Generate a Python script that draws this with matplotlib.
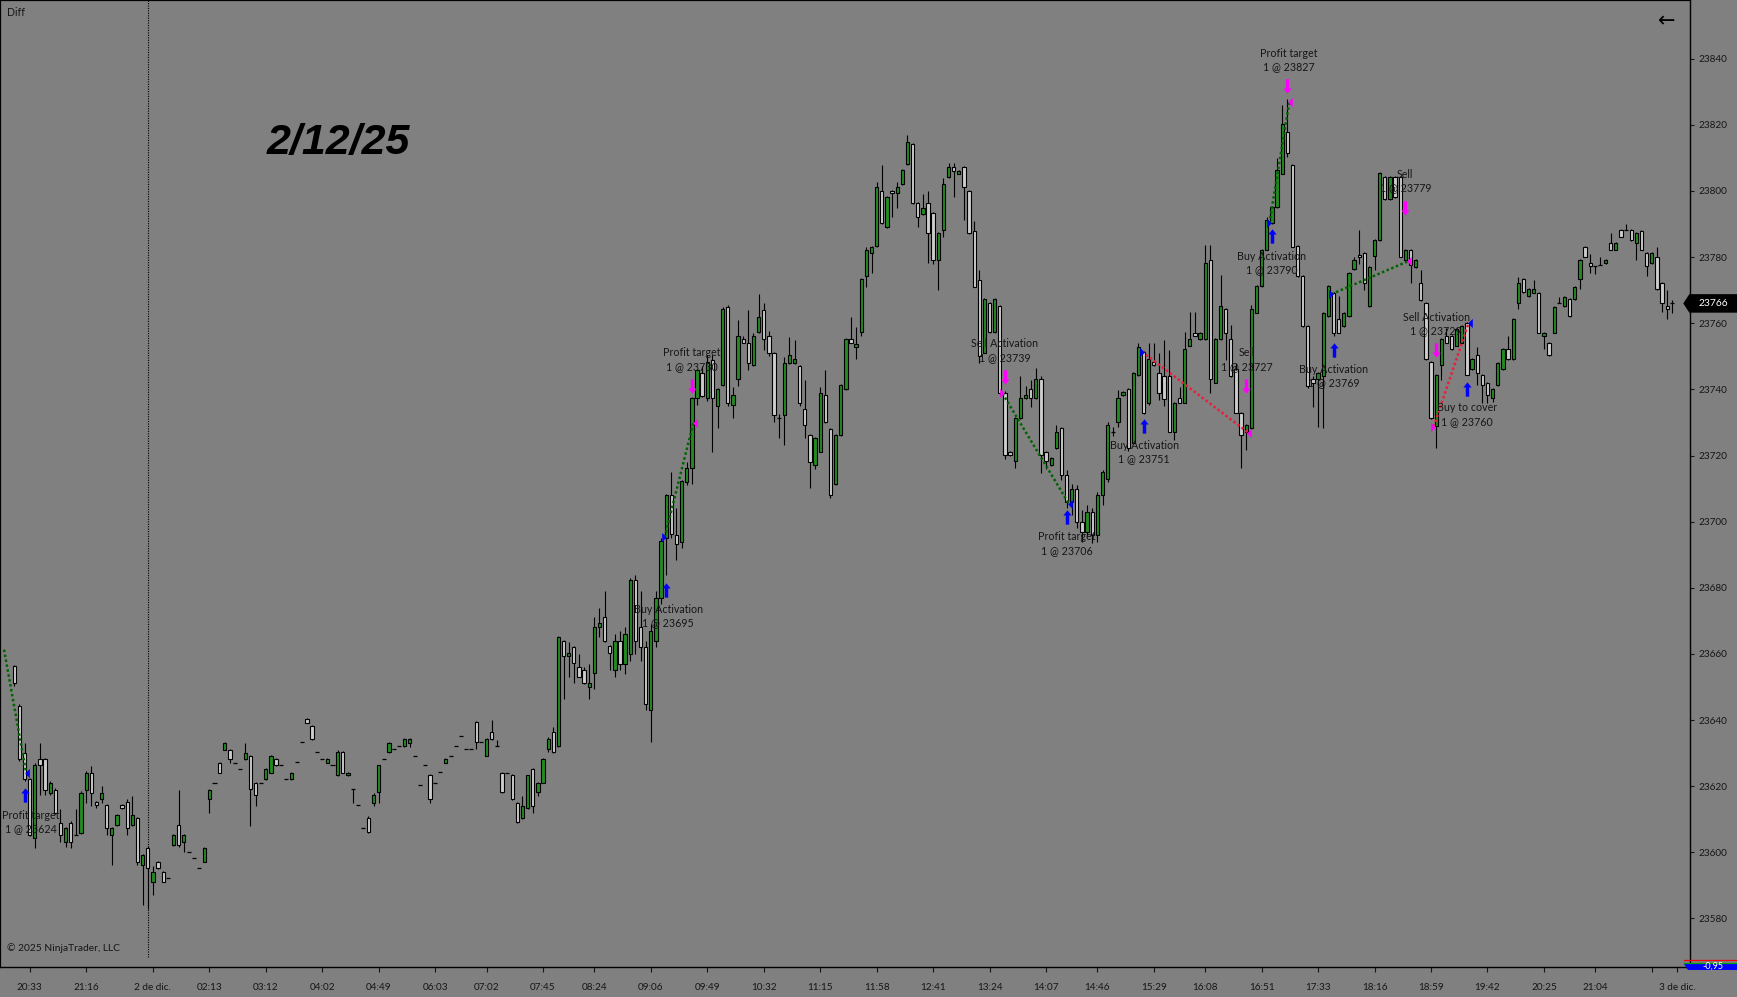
import matplotlib
matplotlib.use('Agg')
import matplotlib.pyplot as plt
from matplotlib.path import Path
from matplotlib.patches import Polygon
import numpy as np

# ---------------- data ----------------
open_ = [
23656.3,23644.2,23630.1,23622.1,23604.2,23628.1,23628.1,23618.0,23619.0,23609.0,
23603.2,23609.0,23605.2,23605.9,23619.0,23624.1,23615.2,23616.0,23614.3,23605.2,
23608.3,23614.3,23615.2,23608.3,23610.3,23596.2,23601.2,23591.1,23597.2,23594.2,
23592.1,23602.2,23608.3,23603.2,23600.2,23598.2,23595.2,23597.2,23616.0,23621.1,
23627.1,23631.1,23631.1,23627.1,23625.1,23628.1,23629.1,23621.1,23621.1,23622.1,
23624.1,23628.1,23626.3,23622.1,23622.1,23627.2,23633.3,23640.2,23638.2,23630.2,
23628.1,23627.1,23626.3,23623.3,23630.2,23623.3,23619.1,23614.2,23607.3,23610.3,
23615.0,23618.1,23628.1,23630.2,23631.2,23632.2,23632.2,23633.2,23629.1,23620.3,
23626.3,23623.3,23621.1,23624.2,23627.1,23629.1,23632.2,23635.2,23631.2,23631.2,
23639.3,23633.3,23629.1,23636.3,23632.2,23624.1,23624.1,23623.3,23615.0,23610.3,
23613.3,23625.1,23618.1,23621.1,23631.2,23636.3,23632.2,23664.0,23659.4,23662.2,
23656.2,23655.0,23650.1,23654.1,23668.0,23671.1,23662.4,23655.0,23664.0,23657.0,
23660.0,23682.3,23668.0,23662.0,23643.0,23664.0,23677.0,23695.2,23708.2,23696.1,
23693.9,23712.1,23716.1,23737.3,23745.1,23737.3,23748.9,23735.0,23741.3,23765.0,
23735.2,23743.0,23755.1,23754.1,23747.3,23757.4,23764.0,23756.0,23751.1,23731.2,
23732.2,23748.1,23748.1,23747.1,23734.2,23726.1,23717.1,23721.2,23738.2,23728.1,
23711.3,23726.1,23740.0,23755.1,23752.9,23757.4,23774.3,23781.1,23783.4,23800.1,
23789.0,23800.1,23799.3,23802.0,23808.1,23814.2,23796.3,23792.9,23796.3,23793.2,
23779.1,23788.2,23804.1,23807.2,23805.1,23807.2,23800.1,23788.0,23773.1,23751.1,
23766.2,23757.4,23765.2,23738.8,23721.2,23718.2,23731.3,23737.3,23740.0,23737.3,
23743.1,23721.2,23717.1,23722.2,23728.2,23714.1,23706.0,23710.0,23700.0,23697.0,
23703.0,23696.0,23708.0,23713.0,23727.2,23730.2,23738.3,23740.0,23723.7,23744.4,
23751.4,23736.0,23748.4,23745.1,23744.0,23744.0,23727.2,23737.3,23736.0,23753.1,
23757.2,23755.1,23755.1,23779.1,23742.0,23755.1,23764.2,23755.1,23746.1,23733.0,
23727.2,23728.2,23763.2,23771.3,23782.2,23790.2,23795.3,23805.1,23817.9,23807.9,
23783.4,23774.3,23759.2,23743.0,23743.1,23744.0,23762.2,23769.1,23761.2,23759.2,
23762.2,23776.3,23780.5,23781.2,23765.2,23780.3,23785.2,23804.3,23797.5,23804.3,
23804.3,23779.1,23782.2,23777.1,23772.1,23766.0,23748.2,23729.0,23747.4,23756.1,
23756.1,23753.1,23754.1,23760.2,23746.1,23750.3,23744.4,23742.0,23737.3,23741.3,
23746.1,23752.1,23749.1,23766.0,23773.3,23768.2,23769.1,23769.1,23756.1,23754.1,
23757.2,23766.0,23765.2,23767.2,23767.2,23773.3,23783.2,23778.1,23777.3,23777.6,
23778.1,23784.2,23782.2,23788.2,23788.2,23788.2,23784.2,23788.0,23781.2,23778.1,
23780.1,23772.1,23765.2,23766.0]

high = [
23656.6,23644.8,23633.0,23622.6,23627.0,23633.0,23628.6,23621.5,23619.5,23613.0,
23607.6,23609.5,23613.0,23618.5,23624.5,23626.1,23615.6,23620.0,23614.6,23607.6,
23611.6,23614.6,23616.0,23617.0,23610.6,23599.5,23602.0,23595.9,23597.5,23594.5,
23592.1,23605.5,23618.8,23605.5,23600.2,23598.2,23595.2,23601.5,23619.3,23621.1,
23627.4,23633.5,23631.4,23627.1,23625.1,23633.0,23629.5,23621.4,23621.1,23625.4,
23629.4,23628.4,23626.3,23622.1,23624.4,23627.2,23633.3,23640.5,23638.5,23630.2,
23628.1,23628.4,23626.3,23631.0,23630.5,23624.4,23619.1,23614.2,23607.3,23611.0,
23617.9,23626.5,23628.1,23633.5,23631.2,23632.2,23634.5,23634.5,23629.1,23620.3,
23626.3,23623.6,23621.1,23624.2,23628.4,23629.1,23632.2,23635.2,23631.2,23631.2,
23639.6,23633.3,23634.5,23640.0,23634.0,23624.4,23624.1,23623.6,23615.3,23617.0,
23623.5,23625.4,23621.4,23628.4,23635.0,23638.0,23665.5,23664.3,23663.7,23662.5,
23660.0,23656.0,23657.0,23671.1,23673.8,23679.0,23662.7,23666.0,23667.0,23668.0,
23683.0,23683.8,23679.0,23664.0,23669.0,23679.0,23695.0,23708.5,23715.1,23704.0,
23712.6,23718.1,23737.6,23746.1,23747.0,23750.4,23750.4,23740.3,23765.0,23765.4,
23740.8,23761.0,23756.0,23764.0,23757.0,23768.8,23766.0,23757.8,23751.4,23732.7,
23749.9,23755.7,23754.9,23747.4,23742.8,23726.4,23725.5,23740.8,23745.9,23728.4,
23726.4,23741.5,23755.4,23762.0,23759.0,23773.6,23783.2,23783.5,23802.8,23807.9,
23798.4,23800.4,23802.8,23806.6,23817.0,23814.5,23796.6,23799.1,23800.0,23793.5,
23787.5,23803.8,23808.6,23808.6,23806.4,23807.5,23800.4,23791.0,23776.1,23767.5,
23766.5,23767.5,23765.5,23739.5,23721.5,23731.6,23743.9,23741.0,23742.9,23746.4,
23744.0,23721.5,23719.5,23729.2,23728.5,23715.5,23711.5,23711.0,23703.5,23705.0,
23704.0,23709.0,23715.5,23730.0,23728.5,23739.8,23739.6,23740.3,23745.4,23753.9,
23751.7,23753.9,23753.9,23751.0,23755.0,23752.0,23736.3,23740.8,23757.5,23763.5,
23763.5,23757.5,23783.7,23783.7,23755.4,23774.6,23764.5,23759.5,23748.0,23733.3,
23729.5,23765.5,23771.6,23782.5,23792.2,23795.6,23810.0,23826.0,23827.7,23808.2,
23783.7,23774.6,23759.5,23744.0,23745.4,23763.5,23771.6,23769.4,23768.1,23763.5,
23775.4,23780.1,23788.2,23781.5,23777.4,23785.5,23805.6,23804.6,23804.6,23804.6,
23804.6,23782.5,23782.5,23779.4,23776.1,23766.3,23748.5,23744.7,23755.4,23758.5,
23756.4,23758.5,23759.5,23760.5,23749.4,23752.9,23744.7,23742.3,23740.3,23748.4,
23752.4,23756.0,23761.5,23774.1,23773.6,23770.6,23773.0,23769.4,23757.5,23754.4,
23765.3,23768.0,23768.3,23767.5,23771.4,23779.4,23783.5,23781.0,23777.3,23780.0,
23779.4,23787.2,23784.5,23788.5,23790.0,23788.5,23787.5,23788.3,23781.5,23781.5,
23783.0,23772.4,23770.1,23767.0]

low = [
23650.3,23627.6,23621.6,23604.8,23601.2,23617.3,23617.3,23617.3,23611.5,23603.2,
23601.7,23601.2,23605.2,23605.5,23615.0,23614.0,23613.3,23615.0,23605.2,23596.2,
23608.0,23613.0,23605.2,23608.0,23596.2,23584.0,23583.0,23587.1,23595.0,23591.0,
23592.1,23602.0,23601.5,23600.2,23600.2,23598.2,23595.2,23597.0,23612.0,23621.1,
23624.0,23631.0,23627.1,23627.1,23625.1,23628.0,23608.1,23614.1,23621.1,23622.0,
23624.0,23626.2,23626.3,23622.1,23622.0,23627.2,23633.3,23639.0,23634.0,23630.2,
23628.1,23627.0,23626.3,23623.0,23624.0,23623.2,23615.0,23614.2,23607.3,23606.0,
23614.1,23615.0,23628.1,23630.0,23631.2,23632.2,23632.0,23632.0,23629.1,23620.3,
23626.3,23615.0,23621.1,23624.2,23627.0,23629.1,23632.2,23635.2,23631.2,23631.2,
23631.2,23633.3,23629.0,23634.0,23632.2,23618.0,23624.1,23615.8,23609.0,23610.0,
23613.0,23612.0,23617.0,23621.0,23630.2,23630.0,23632.0,23646.3,23653.1,23651.1,
23653.0,23651.0,23646.3,23649.3,23665.2,23663.5,23655.1,23653.0,23655.0,23654.0,
23658.0,23660.0,23658.0,23643.0,23633.4,23662.0,23675.0,23684.0,23695.0,23688.4,
23691.9,23711.1,23711.3,23735.2,23737.8,23736.5,23721.1,23728.2,23741.0,23735.0,
23731.2,23741.0,23754.0,23745.9,23747.0,23757.0,23751.9,23750.0,23730.2,23725.2,
23723.2,23747.8,23747.8,23735.0,23725.2,23710.1,23716.0,23721.0,23729.7,23707.1,
23711.0,23726.0,23739.8,23754.0,23749.1,23756.0,23771.1,23775.1,23783.2,23790.0,
23788.8,23792.0,23795.0,23801.8,23808.0,23796.0,23789.0,23792.7,23778.1,23777.9,
23770.0,23786.2,23804.0,23798.1,23805.0,23791.2,23787.0,23771.0,23748.1,23751.0,
23757.2,23757.2,23738.6,23719.0,23720.0,23716.1,23731.0,23737.0,23734.8,23737.0,
23714.6,23716.0,23716.8,23722.0,23712.6,23704.0,23702.0,23698.0,23694.0,23695.5,
23693.5,23694.0,23705.0,23712.0,23726.0,23728.7,23738.0,23721.5,23723.5,23744.0,
23732.5,23735.3,23747.0,23736.8,23735.0,23727.0,23724.7,23735.8,23735.8,23753.0,
23756.0,23755.0,23755.0,23738.8,23741.8,23755.0,23748.9,23743.8,23732.8,23716.1,
23721.7,23728.0,23763.0,23771.0,23782.0,23790.0,23795.0,23805.0,23810.4,23783.0,
23774.0,23759.0,23740.5,23734.8,23728.7,23728.2,23762.0,23756.0,23757.0,23759.0,
23762.0,23776.0,23778.0,23770.1,23765.0,23776.1,23785.0,23797.3,23797.3,23798.0,
23780.0,23778.8,23772.1,23776.8,23766.8,23749.0,23731.0,23722.2,23742.8,23754.0,
23752.0,23753.0,23754.0,23744.2,23746.0,23741.3,23735.8,23735.8,23736.3,23741.0,
23746.0,23749.0,23749.0,23764.2,23769.0,23768.0,23769.0,23757.0,23752.1,23750.2,
23757.0,23766.0,23765.0,23762.0,23767.0,23770.3,23779.9,23775.1,23775.0,23777.6,
23778.0,23782.0,23782.0,23786.0,23788.2,23785.0,23779.1,23782.0,23774.3,23778.0,
23770.0,23763.5,23761.2,23763.0]

close = [
23651.1,23628.1,23622.1,23605.2,23626.4,23626.4,23619.0,23621.1,23612.0,23605.2,
23607.3,23603.2,23605.2,23618.0,23624.1,23618.0,23614.3,23618.0,23607.3,23607.3,
23611.3,23613.3,23607.3,23611.3,23597.2,23599.2,23595.2,23594.2,23595.2,23591.1,
23592.1,23605.2,23602.2,23605.2,23600.2,23598.2,23595.2,23601.2,23619.0,23621.1,
23624.1,23633.2,23628.1,23627.1,23625.1,23630.1,23619.1,23617.2,23621.1,23625.1,
23629.1,23626.3,23626.3,23622.1,23624.1,23627.2,23633.3,23639.2,23634.2,23630.2,
23628.1,23628.1,23626.3,23630.2,23624.1,23624.1,23619.1,23614.2,23607.3,23606.1,
23617.2,23626.3,23628.1,23633.2,23631.2,23632.2,23634.2,23634.2,23629.1,23620.3,
23626.3,23616.0,23621.1,23624.2,23628.1,23629.1,23632.2,23635.2,23631.2,23631.2,
23633.3,23633.3,23634.2,23634.2,23632.2,23618.1,23624.1,23616.0,23609.1,23614.1,
23623.3,23614.1,23621.1,23628.1,23634.2,23630.2,23665.2,23659.4,23660.2,23657.2,
23653.1,23651.1,23651.1,23668.0,23669.3,23664.0,23660.2,23664.0,23657.0,23666.0,
23682.3,23664.0,23662.0,23645.0,23667.0,23677.0,23694.1,23708.2,23696.4,23693.1,
23712.3,23716.1,23737.3,23745.8,23738.1,23748.4,23737.3,23740.0,23764.2,23736.0,
23738.2,23756.0,23754.1,23748.1,23756.0,23762.0,23755.1,23751.1,23732.2,23731.2,
23748.1,23750.3,23749.1,23736.0,23729.1,23718.1,23725.2,23739.0,23730.0,23708.1,
23726.1,23741.2,23755.1,23754.1,23753.7,23773.3,23782.0,23783.2,23801.1,23790.2,
23798.1,23799.3,23801.1,23806.3,23814.9,23796.3,23792.0,23794.8,23787.2,23779.1,
23787.2,23802.0,23807.2,23806.1,23806.1,23801.1,23787.2,23771.1,23750.1,23767.2,
23757.4,23767.2,23738.8,23720.2,23720.2,23731.3,23737.3,23738.3,23737.3,23743.1,
23720.2,23718.2,23719.2,23727.2,23714.1,23706.0,23710.0,23700.0,23697.0,23703.0,
23696.0,23708.0,23715.1,23729.2,23727.2,23737.3,23739.3,23722.2,23745.1,23752.9,
23733.0,23749.1,23747.4,23739.0,23737.0,23727.2,23736.0,23736.0,23752.1,23755.1,
23756.2,23757.2,23778.1,23743.1,23755.1,23765.2,23757.2,23744.0,23733.0,23726.2,
23729.2,23764.2,23771.3,23782.2,23791.2,23795.3,23806.3,23820.2,23811.4,23783.2,
23774.3,23759.2,23741.0,23742.0,23745.1,23763.2,23771.3,23757.2,23757.2,23763.2,
23775.1,23779.1,23780.0,23772.1,23777.1,23785.2,23805.3,23797.5,23804.3,23798.3,
23780.1,23782.2,23777.6,23779.1,23767.0,23749.1,23731.2,23744.4,23755.1,23754.1,
23752.1,23758.2,23759.2,23744.4,23749.1,23745.0,23741.3,23738.3,23740.0,23748.1,
23752.1,23749.1,23761.2,23772.1,23769.3,23770.3,23770.3,23757.2,23757.2,23750.4,
23765.0,23766.0,23768.0,23762.2,23771.1,23779.1,23780.1,23777.3,23777.3,23777.6,
23779.1,23782.2,23784.2,23786.2,23788.2,23785.2,23787.2,23782.2,23777.3,23781.2,
23770.3,23766.0,23764.2,23766.0]

tick_bars = [3, 14, 27, 38, 49, 60, 71, 82, 92, 103, 113, 124, 135, 146, 157, 168,
             179, 190, 201, 211, 222, 232, 243, 254, 265, 276, 287, 298, 308, 319, 324]
tick_labels = ['20:33', '21:16', '2 de dic.', '02:13', '03:12', '04:02', '04:49', '06:03',
               '07:02', '07:45', '08:24', '09:06', '09:49', '10:32', '11:15', '11:58',
               '12:41', '13:24', '14:07', '14:46', '15:29', '16:08', '16:51', '17:33',
               '18:16', '18:59', '19:42', '20:25', '21:04', '', '3 de dic.']
price_ticks = [23580, 23600, 23620, 23640, 23660, 23680, 23700, 23720, 23740,
               23760, 23780, 23800, 23820, 23840]
session_break_bar = 26
last_price = 23766

# trades: entry -> exit
entry_x = [-2.0, 126.7, 192.5, 219.7, 244.5, 256.6, 276.5]
entry_y = [23661.3, 23695.3, 23738.8, 23751.4, 23790.2, 23768.8, 23728.7]
exit_x = [2.3, 132.3, 205.5, 240.4, 248.4, 271.6, 283.3]
exit_y = [23624.1, 23729.9, 23705.3, 23726.9, 23827.0, 23778.8, 23760.0]
trade_win = [True, True, True, False, True, True, False]

# execution triangles
tri_x = [2.4, 126.6, 132.6, 192.4, 205.7, 219.6, 240.6, 244.4, 248.6, 256.5, 271.8, 276.4, 283.5]
tri_y = [23624.1, 23695.3, 23729.9, 23738.8, 23705.3, 23751.4, 23726.9, 23790.2, 23827.0,
         23768.8, 23778.8, 23728.7, 23760.0]
tri_dir = ['<', '>', '<', '>', '<', '>', '<', '>', '<', '>', '<', '>', '<']
tri_buy = [True, True, False, False, True, True, False, True, False, True, False, False, True]

# execution arrows
buy_arrow_x = [2, 127, 205, 220, 245, 257, 283]
buy_arrow_y = [23617.2, 23679.4, 23701.4, 23729.0, 23786.4, 23752.0, 23740.2]
sell_arrow_x = [132, 193, 240, 248, 271, 277]
sell_arrow_y = [23741.0, 23743.7, 23741.1, 23831.7, 23794.8, 23751.8]

# execution labels
label_text = ['Profit target\n1 @ 23624', 'Buy Activation\n1 @ 23695', 'Profit target\n1 @ 23730',
              'Sell Activation\n1 @ 23739', 'Profit target\n1 @ 23706', 'Buy Activation\n1 @ 23751',
              'Sell\n1 @ 23727', 'Buy Activation\n1 @ 23790', 'Profit target\n1 @ 23827',
              'Buy Activation\n1 @ 23769', 'Sell\n1 @ 23779', 'Sell Activation\n1 @ 23729',
              'Buy to cover\n1 @ 23760']
label_x = [3.3, 127.4, 132.0, 193.0, 205.0, 220.1, 240.1, 245.0, 248.2, 257.0, 271.0, 277.0, 283.0]
label_y = [23609.2, 23671.5, 23749.0, 23751.7, 23693.3, 23721.1, 23749.0, 23778.2, 23839.6,
           23744.0, 23803.0, 23759.8, 23732.3]

# ---------------- style ----------------
BG = '#808080'
UP = '#228B22'
DOWN = '#CDCDCD'
BLUE = '#0000FF'
MAG = '#FF00FF'
TXT = '#161616'
plt.rcParams['font.family'] = ['Lato', 'DejaVu Sans']

W, H = 1737, 997
fig = plt.figure(figsize=(W / 100, H / 100), dpi=100, facecolor=BG)
ax = fig.add_axes([0, 30 / H, 1690 / W, 967 / H])
ax.set_facecolor(BG)

o = np.array(open_); h = np.array(high); l = np.array(low); c = np.array(close)
x = np.arange(len(o))
up = c > o
dn = c < o
fl = c == o

ax.vlines(x, l, h, color='black', lw=0.8, zorder=2)
ax.bar(x[up], (c - o)[up], bottom=o[up], width=0.64, color=UP, edgecolor='black',
       linewidth=0.8, zorder=3)
ax.bar(x[dn], (o - c)[dn], bottom=c[dn], width=0.64, color=DOWN, edgecolor='black',
       linewidth=0.8, zorder=3)
ax.hlines(c[fl], x[fl] - 0.4, x[fl] + 0.4, color='black', lw=0.9, zorder=3)

# session break
ax.axvline(session_break_bar, ymin=0.01, ymax=1, color='black', lw=0.8,
           linestyle=(0, (1, 1.2)), zorder=1)

# trade lines
for x0, y0, x1, y1, win in zip(entry_x, entry_y, exit_x, exit_y, trade_win):
    ax.plot([x0, x1], [y0, y1], color='#006400' if win else '#E8203A', lw=1.8,
            linestyle=(0, (1, 1.0)), zorder=4)

# markers
def mk(verts):
    codes = [Path.MOVETO] + [Path.LINETO] * (len(verts) - 1) + [Path.CLOSEPOLY]
    return Path(verts + [verts[0]], codes)

up_arrow = mk([(-0.29, 0.14), (0, 0.5), (0.29, 0.14), (0.12, 0.14), (0.12, -0.5),
               (-0.12, -0.5), (-0.12, 0.14)])
dn_arrow = mk([(-0.29, -0.14), (0, -0.5), (0.29, -0.14), (0.12, -0.14), (0.12, 0.5),
               (-0.12, 0.5), (-0.12, -0.14)])
tri_r = mk([(-0.25, -0.5), (0.25, 0), (-0.25, 0.5)])
tri_l = mk([(0.25, -0.5), (-0.25, 0), (0.25, 0.5)])

ax.plot(buy_arrow_x, buy_arrow_y, linestyle='none', marker=up_arrow, markersize=10.3,
        color=BLUE, markeredgewidth=0, zorder=6)
ax.plot(sell_arrow_x, sell_arrow_y, linestyle='none', marker=dn_arrow, markersize=10.3,
        color=MAG, markeredgewidth=0, zorder=6)
for tx, ty, td, tb in zip(tri_x, tri_y, tri_dir, tri_buy):
    ax.plot([tx], [ty], linestyle='none', marker=tri_r if td == '>' else tri_l,
            markersize=6.6, color=BLUE if tb else MAG, markeredgewidth=0, zorder=6)

for t, lx, ly in zip(label_text, label_x, label_y):
    ax.text(lx, ly, t, ha='center', va='center', fontsize=7.7, color=TXT,
            linespacing=1.3, zorder=7)

# axes
ax.set_xlim(-2.786, 326.45)
ax.set_ylim(23565.33, 23857.75)
ax.yaxis.tick_right()
ax.set_yticks(price_ticks)
ax.set_yticklabels([str(p) for p in price_ticks])
ax.set_xticks(tick_bars)
ax.set_xticklabels(tick_labels)
ax.tick_params(axis='y', direction='out', length=3.1, width=0.8, pad=3.2,
               labelsize=7.2, colors=TXT)
ax.tick_params(axis='x', direction='out', length=3.6, width=0.8, pad=8,
               labelsize=7.2, colors=TXT)
for side, s in ax.spines.items():
    s.set_color('black')
    s.set_linewidth(1.6 if side in ('left', 'top') else 1.0)

# last price marker
tr = ax.get_yaxis_transform()
ax.add_patch(Polygon([(0.99604, last_price), (0.99959, last_price + 2.8),
                      (1.0279, last_price + 2.8), (1.0279, last_price - 2.8),
                      (0.99959, last_price - 2.8)], closed=True, transform=tr,
                     facecolor='black', edgecolor='none', clip_on=False, zorder=10))
ax.text(1.0136, last_price, str(last_price), transform=tr, ha='center', va='center',
        fontsize=7.4, color='white', clip_on=False, zorder=11)

# figure texts
fig.text(7 / W, 1 - 13 / H, 'Diff', ha='left', va='center', fontsize=7.6, color=TXT)
fig.text(338 / W, 1 - 143 / H, '2/12/25', ha='center', va='center', fontsize=31,
         fontweight='bold', fontstyle='italic', family='Liberation Sans', color='black')
fig.text(7 / W, 1 - 948 / H, '\u00a9 2025 NinjaTrader, LLC', ha='left', va='center',
         fontsize=7.4, color=TXT)
fig.text(1667 / W, 1 - 21 / H, '\u2190', ha='center', va='center', fontsize=15,
         family='DejaVu Sans', color='black')

# bottom-right indicator box
fig.add_artist(plt.Line2D([1684 / W, 1], [1 - 960 / H, 1 - 960 / H], color='#FF0000', lw=0.9))
fig.add_artist(plt.Line2D([1684 / W, 1], [1 - 962.5 / H, 1 - 962.5 / H], color='#00A000', lw=0.9))
fig.add_artist(Polygon([(1684 / W, 1 - 963.5 / H), (1, 1 - 963.5 / H), (1, 1 - 970 / H),
                        (1688 / W, 1 - 970 / H)], closed=True, facecolor='#0000FF',
                       edgecolor='none', transform=fig.transFigure))
fig.text(1713 / W, 1 - 966 / H, '-0,95', ha='center', va='center', fontsize=6.5, color='white')

fig.savefig('out.png', dpi=100, facecolor=BG)
